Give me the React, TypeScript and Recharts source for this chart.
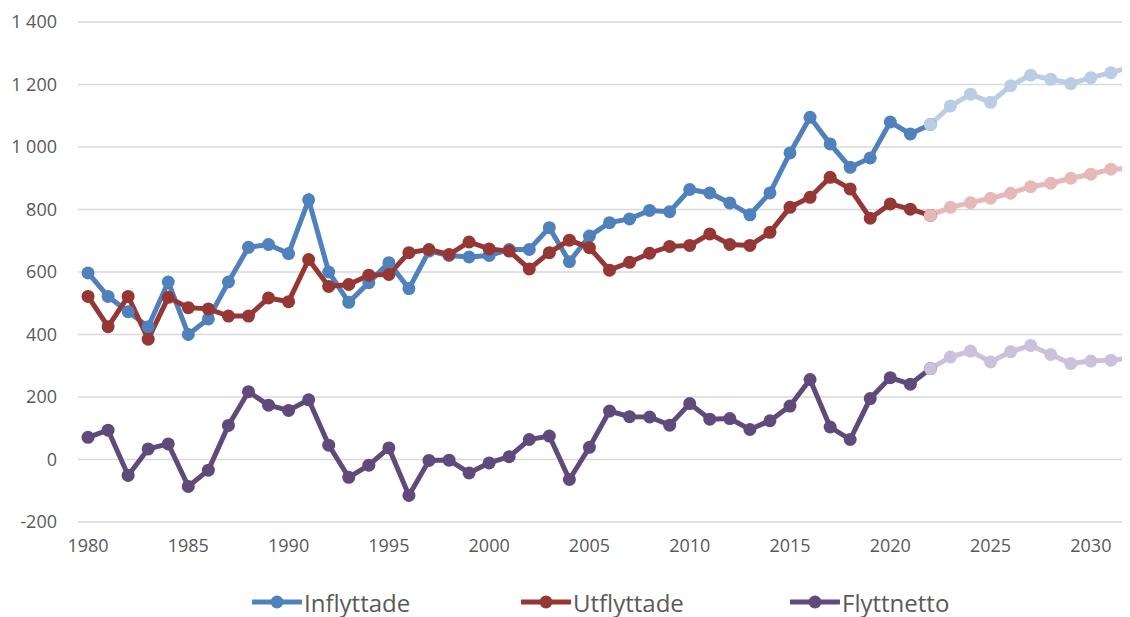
import { LineChart, Line, XAxis, YAxis, CartesianGrid, Legend } from "recharts";

// år 1980–2032, utfall t.o.m. 2022, prognos 2022–2032
const firstYear = 1980;
const lastYear = 2032;
const prognosStart = 2022;

const inflyttade = [
  597, 522, 473, 425, 568, 400, 450, 568, 679, 688, 659, 831, 600, 503, 566, 630, 547, 667, 653, 648, 653,
  672, 672, 742, 633, 715, 758, 770, 797, 793, 864, 853, 821, 783, 853, 981, 1095, 1010, 935, 965, 1080,
  1042, 1072,
];
const utflyttade = [
  522, 425, 522, 385, 519, 486, 482, 459, 459, 517, 505, 640, 554, 560, 590, 592, 662, 672, 656, 696, 674,
  667, 610, 662, 702, 678, 606, 631, 660, 682, 685, 722, 688, 685, 727, 807, 839, 903, 866, 772, 818, 801,
  781,
];
const flyttnetto = [
  71, 94, -51, 34, 50, -86, -34, 109, 217, 174, 157, 191, 46, -57, -18, 37, -115, -3, -2, -43, -11, 9, 64,
  75, -64, 39, 155, 137, 136, 110, 179, 129, 131, 96, 124, 171, 256, 104, 64, 195, 262, 241, 291,
];

const prognosIn = [1072, 1131, 1169, 1143, 1196, 1230, 1217, 1203, 1222, 1238, 1256];
const prognosUt = [781, 807, 822, 836, 852, 873, 884, 900, 913, 929, 932];
const prognosNetto = [291, 328, 347, 312, 345, 365, 336, 307, 315, 318, 325];

const xTicks = [1980, 1985, 1990, 1995, 2000, 2005, 2010, 2015, 2020, 2025, 2030];
const yTicks = [-200, 0, 200, 400, 600, 800, 1000, 1200, 1400];

const series = [
  { name: "Inflyttade", color: "#4F81BD", light: "#B9CDE5" },
  { name: "Utflyttade", color: "#953735", light: "#E6B9B8" },
  { name: "Flyttnetto", color: "#604A7B", light: "#CCC1DA" },
];

const data = [];
for (let y = firstYear; y <= lastYear; y++) {
  const i = y - firstYear;
  const p = y - prognosStart;
  data.push({
    year: y,
    in: inflyttade[i],
    ut: utflyttade[i],
    netto: flyttnetto[i],
    inP: p >= 0 ? prognosIn[p] : undefined,
    utP: p >= 0 ? prognosUt[p] : undefined,
    nettoP: p >= 0 ? prognosNetto[p] : undefined,
  });
}

const font = "'Open Sans', 'Noto Sans', sans-serif";
const fmt = (v: number) => String(v).replace(/\B(?=(\d{3})+(?!\d))/g, " ");

function LegendBox() {
  return (
    <div style={{ display: "flex", paddingLeft: 244, height: 30, alignItems: "center", fontFamily: font }}>
      {series.map((s) => (
        <div key={s.name} style={{ width: 269, display: "flex", alignItems: "center" }}>
          <svg width={50} height={16}>
            <line x1={1} y1={8} x2={49} y2={8} stroke={s.color} strokeWidth={5} strokeLinecap="round" />
            <circle cx={25} cy={8} r={6.5} fill={s.color} />
          </svg>
          <span style={{ fontSize: 24, color: "#595959", marginLeft: 2 }}>{s.name}</span>
        </div>
      ))}
    </div>
  );
}

export default function App() {
  const keys = [
    ["in", "inP"],
    ["ut", "utP"],
    ["netto", "nettoP"],
  ];
  return (
    <div style={{ width: 1122, height: 609, overflow: "hidden" }}>
      <LineChart width={1133} height={609} data={data} margin={{ top: 14, right: 0, left: 0, bottom: 0 }}>
        <CartesianGrid stroke="#D9D9D9" strokeWidth={1.5} vertical={false} />
        <XAxis
          dataKey="year"
          type="number"
          domain={[1979.5, 2032.5]}
          ticks={xTicks}
          axisLine={false}
          tickLine={false}
          tickMargin={11}
          height={65}
          tick={{ fontSize: 18, fill: "#595959", fontFamily: font }}
        />
        <YAxis
          domain={[-200, 1400]}
          ticks={yTicks}
          width={70}
          axisLine={false}
          tickLine={false}
          tickMargin={15}
          tickFormatter={fmt}
          tick={{ fontSize: 18, fill: "#595959", fontFamily: font }}
        />
        <Legend verticalAlign="bottom" content={() => <LegendBox />} />
        {series.map((s, i) => (
          <Line
            key={s.name}
            dataKey={keys[i][0]}
            name={s.name}
            stroke={s.color}
            strokeWidth={5}
            dot={{ r: 6.5, fill: s.color, stroke: s.color, strokeWidth: 0 }}
            isAnimationActive={false}
          />
        ))}
        {series.map((s, i) => (
          <Line
            key={s.name + "p"}
            dataKey={keys[i][1]}
            stroke={s.light}
            strokeWidth={5}
            legendType="none"
            dot={{ r: 6.5, fill: s.light, stroke: s.light, strokeWidth: 0 }}
            isAnimationActive={false}
          />
        ))}
      </LineChart>
    </div>
  );
}
